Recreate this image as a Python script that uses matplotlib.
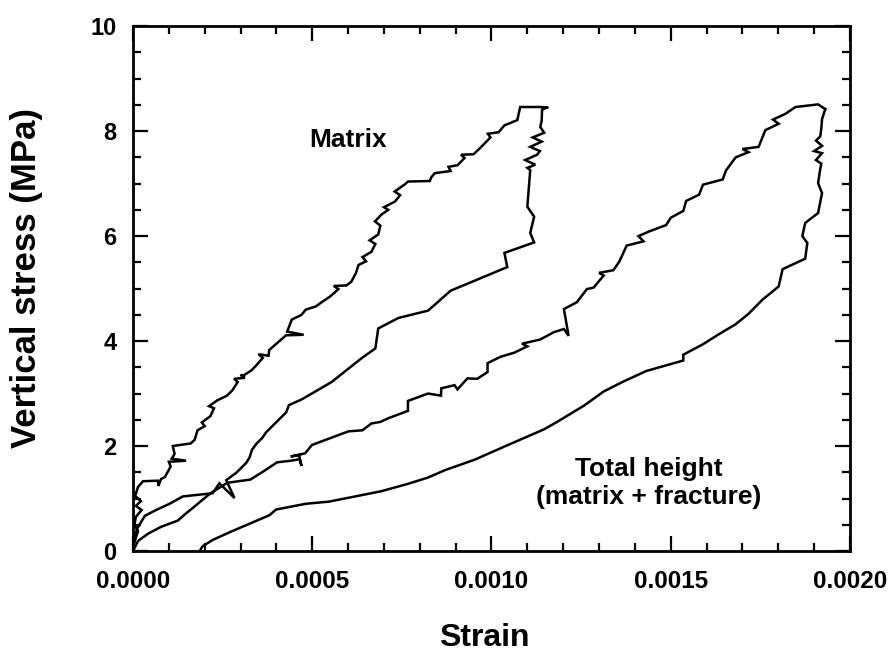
import matplotlib
matplotlib.use("Agg")
import matplotlib.pyplot as plt
from matplotlib.ticker import MultipleLocator, FixedLocator

# ---- data (strain in units of 1e-3, stress in MPa) ----
matrix_load_x = [0.000, 0.000, 0.014, 0.004, 0.008, 0.024, 0.008, 0.022, 0.006, 0.014,
                 0.028, 0.069, 0.071, 0.078, 0.089, 0.105, 0.100, 0.148, 0.108, 0.116,
                 0.111, 0.161, 0.172, 0.180, 0.200, 0.192, 0.216, 0.226, 0.212, 0.235,
                 0.262, 0.277, 0.292, 0.282, 0.312, 0.300, 0.305, 0.330, 0.343, 0.362,
                 0.350, 0.378, 0.380, 0.405, 0.427, 0.476, 0.430, 0.443, 0.470, 0.482,
                 0.510, 0.526, 0.550, 0.573, 0.560, 0.595, 0.609, 0.622, 0.629, 0.650,
                 0.640, 0.665, 0.676, 0.660, 0.684, 0.690, 0.675, 0.693, 0.712, 0.700,
                 0.731, 0.745, 0.730, 0.759, 0.767, 0.828, 0.832, 0.842, 0.886, 0.880,
                 0.905, 0.925, 0.915, 0.950, 0.970, 0.997, 0.990, 1.020, 1.036, 1.072,
                 1.080, 1.136, 1.155]
matrix_load_y = [0.00, 0.08, 0.38, 0.50, 0.65, 0.78, 0.86, 0.95, 1.05, 1.22,
                 1.33, 1.34, 1.24, 1.37, 1.41, 1.61, 1.70, 1.72, 1.76, 1.85,
                 2.00, 2.05, 2.12, 2.30, 2.38, 2.45, 2.57, 2.72, 2.76, 2.87,
                 2.96, 3.06, 3.22, 3.28, 3.30, 3.36, 3.33, 3.44, 3.53, 3.68,
                 3.75, 3.72, 3.83, 3.98, 4.11, 4.12, 4.18, 4.41, 4.50, 4.60,
                 4.66, 4.74, 4.85, 4.99, 5.05, 5.06, 5.13, 5.30, 5.45, 5.52,
                 5.60, 5.70, 5.85, 5.92, 6.03, 6.20, 6.28, 6.41, 6.50, 6.55,
                 6.66, 6.78, 6.85, 6.99, 7.04, 7.05, 7.12, 7.20, 7.24, 7.32,
                 7.35, 7.49, 7.55, 7.56, 7.69, 7.88, 7.95, 7.98, 8.11, 8.21,
                 8.46, 8.46, 8.45]

matrix_unload_x = [1.155, 1.141, 1.140, 1.136, 1.147, 1.115, 1.140, 1.108, 1.135, 1.127,
                   1.094, 1.122, 1.100, 1.108, 1.100, 1.119, 1.108, 1.119, 1.036, 1.044,
                   0.886, 0.823, 0.740, 0.684, 0.676, 0.637, 0.554, 0.471, 0.435, 0.427,
                   0.399, 0.371, 0.360, 0.345, 0.332, 0.325, 0.316, 0.288, 0.260, 0.283,
                   0.241, 0.222, 0.139, 0.102, 0.061, 0.033, 0.011, 0.000]
matrix_unload_y = [8.45, 8.41, 8.20, 8.08, 7.97, 7.88, 7.80, 7.70, 7.62, 7.55,
                   7.45, 7.36, 7.30, 7.26, 6.56, 6.37, 6.06, 5.88, 5.68, 5.41,
                   4.96, 4.58, 4.44, 4.24, 3.86, 3.67, 3.22, 2.89, 2.78, 2.64,
                   2.45, 2.26, 2.15, 2.05, 1.93, 1.78, 1.68, 1.49, 1.35, 1.01,
                   1.29, 1.10, 1.04, 0.90, 0.77, 0.67, 0.42, 0.13]

total_load_x = [0.000, 0.014, 0.042, 0.078, 0.125, 0.145, 0.172, 0.216, 0.263, 0.327,
                0.360, 0.402, 0.440, 0.465, 0.470, 0.463, 0.440, 0.480, 0.499, 0.546,
                0.601, 0.640, 0.665, 0.690, 0.712, 0.767, 0.767, 0.823, 0.859, 0.860,
                0.897, 0.905, 0.933, 0.960, 0.989, 0.989, 1.025, 1.064, 1.100, 1.085,
                1.136, 1.174, 1.202, 1.215, 1.202, 1.238, 1.266, 1.285, 1.313, 1.300,
                1.340, 1.357, 1.377, 1.424, 1.410, 1.440, 1.487, 1.500, 1.535, 1.543,
                1.579, 1.590, 1.645, 1.654, 1.681, 1.717, 1.700, 1.745, 1.764, 1.801,
                1.785, 1.820, 1.848, 1.911, 1.931]
total_load_y = [0.00, 0.19, 0.33, 0.46, 0.58, 0.70, 0.85, 1.10, 1.30, 1.36,
                1.50, 1.69, 1.72, 1.75, 1.62, 1.83, 1.80, 1.86, 2.02, 2.14,
                2.28, 2.30, 2.43, 2.46, 2.53, 2.67, 2.86, 3.00, 2.96, 3.10,
                3.16, 3.08, 3.29, 3.28, 3.41, 3.58, 3.70, 3.78, 3.90, 3.95,
                4.03, 4.17, 4.23, 4.10, 4.61, 4.74, 4.99, 5.02, 5.25, 5.30,
                5.35, 5.52, 5.82, 5.90, 6.00, 6.09, 6.21, 6.35, 6.48, 6.67,
                6.79, 6.98, 7.08, 7.25, 7.50, 7.60, 7.66, 7.70, 8.02, 8.14,
                8.22, 8.33, 8.46, 8.51, 8.42]

total_unload_x = [1.931, 1.922, 1.920, 1.917, 1.905, 1.922, 1.900, 1.922, 1.905, 1.920,
                  1.917, 1.911, 1.922, 1.911, 1.875, 1.867, 1.881, 1.875, 1.812, 1.801,
                  1.756, 1.717, 1.681, 1.634, 1.590, 1.535, 1.535, 1.432, 1.368, 1.313,
                  1.258, 1.183, 1.147, 1.036, 0.953, 0.870, 0.823, 0.767, 0.693, 0.620,
                  0.546, 0.482, 0.399, 0.380, 0.332, 0.277, 0.222, 0.194, 0.186]
total_unload_y = [8.42, 8.23, 8.05, 7.90, 7.82, 7.72, 7.62, 7.58, 7.45, 7.38,
                  7.28, 7.01, 6.82, 6.44, 6.25, 6.00, 5.87, 5.57, 5.37, 5.04,
                  4.79, 4.52, 4.32, 4.13, 3.94, 3.74, 3.63, 3.43, 3.23, 3.04,
                  2.77, 2.46, 2.32, 1.99, 1.74, 1.54, 1.40, 1.28, 1.14, 1.04,
                  0.94, 0.90, 0.79, 0.68, 0.54, 0.38, 0.21, 0.09, 0.00]

x_ticks = [0.0, 0.0005, 0.0010, 0.0015, 0.0020]
x_tick_labels = ["0.0000", "0.0005", "0.0010", "0.0015", "0.0020"]
y_ticks = [0, 2, 4, 6, 8, 10]
y_tick_labels = ["0", "2", "4", "6", "8", "10"]

SCALE = 1e-3

fig = plt.figure(figsize=(8.9, 6.61), dpi=100)
ax = fig.add_axes([133 / 890, 0.1664, (850 - 133) / 890, 0.794])

lw = 1.8
for xs, ys in [(matrix_load_x, matrix_load_y), (matrix_unload_x, matrix_unload_y),
               (total_load_x, total_load_y), (total_unload_x, total_unload_y)]:
    ax.plot([v * SCALE for v in xs], ys, color="black", lw=lw, solid_joinstyle="miter")

ax.set_xlim(0, 0.002)
ax.set_ylim(0, 10)

ax.xaxis.set_major_locator(FixedLocator(x_ticks))
ax.set_xticklabels(x_tick_labels)
ax.xaxis.set_minor_locator(MultipleLocator(0.0001))
ax.yaxis.set_major_locator(FixedLocator(y_ticks))
ax.set_yticklabels(y_tick_labels)
ax.yaxis.set_minor_locator(MultipleLocator(0.5))

ax.tick_params(which="both", direction="in", top=True, right=True, width=1.6, color="black")
ax.tick_params(which="major", length=11)
ax.tick_params(which="minor", length=6)
ax.tick_params(axis="x", which="major", pad=14)
ax.tick_params(axis="y", which="major", pad=12)

for lab in ax.get_xticklabels():
    lab.set_fontfamily("Liberation Sans")
    lab.set_fontweight("bold")
    lab.set_fontsize(17.5)
for lab in ax.get_yticklabels():
    lab.set_fontfamily("Liberation Sans")
    lab.set_fontweight("bold")
    lab.set_fontsize(17)

for sp in ax.spines.values():
    sp.set_linewidth(2.0)

fig.text(484 / 890, 1 - 638 / 661, "Strain", ha="center", va="center",
         fontsize=23, fontweight="bold", family="Liberation Sans")
fig.text(27 / 890, 1 - 278 / 661, "Vertical stress (MPa)", ha="center", va="center",
         rotation=90, fontsize=25, fontweight="bold", family="Liberation Sans")

ax.text(0.00060, 7.84, "Matrix", ha="center", va="center", fontsize=19,
        fontweight="bold", family="Liberation Sans")
ax.text(0.001439, 1.57, "Total height", ha="center", va="center", fontsize=19,
        fontweight="bold", family="Liberation Sans")
ax.text(0.001439, 1.02, "(matrix + fracture)", ha="center", va="center", fontsize=19,
        fontweight="bold", family="Liberation Sans")

fig.savefig("out.png", dpi=100, facecolor="white")
